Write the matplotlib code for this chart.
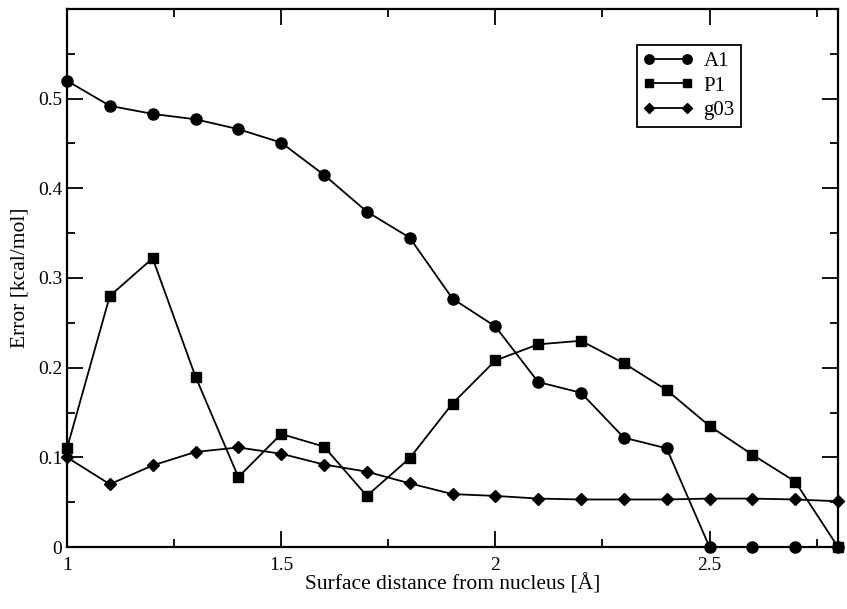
import matplotlib
matplotlib.use("Agg")
import matplotlib.pyplot as plt
from matplotlib.ticker import MultipleLocator

plt.rcParams['font.family'] = ['Liberation Serif', 'DejaVu Serif']
plt.rcParams['font.size'] = 14

# distance grid [Å]
x = [1.0, 1.1, 1.2, 1.3, 1.4, 1.5, 1.6, 1.7, 1.8, 1.9,
     2.0, 2.1, 2.2, 2.3, 2.4, 2.5, 2.6, 2.7, 2.8]

a1 = [0.520, 0.492, 0.483, 0.477, 0.466, 0.451, 0.415, 0.374, 0.345, 0.277,
      0.246, 0.184, 0.172, 0.122, 0.110, 0.0, 0.0, 0.0, 0.0]
p1 = [0.110, 0.280, 0.322, 0.190, 0.078, 0.126, 0.112, 0.057, 0.099, 0.160,
      0.208, 0.226, 0.230, 0.205, 0.175, 0.135, 0.103, 0.073, 0.0]
g03 = [0.100, 0.070, 0.091, 0.106, 0.111, 0.104, 0.092, 0.084, 0.071, 0.059,
       0.057, 0.054, 0.053, 0.053, 0.053, 0.054, 0.054, 0.053, 0.051]

fig = plt.figure(figsize=(8.47, 6.09), dpi=100)
# axes box: x 67..838 px, y 9..547 px
ax = fig.add_axes([67/847, 62/609, 771/847, 538/609])

style = dict(color="black", lw=1.3, clip_on=False, zorder=3)
ax.plot(x, a1, marker="o", ms=8, label="A1", **style)
ax.plot(x, p1, marker="s", ms=7, label="P1", **style)
ax.plot(x, g03, marker="D", ms=5.8, label="g03", **style)

ax.set_xlim(1, 2.8)
ax.set_ylim(0, 0.6)
ax.xaxis.set_minor_locator(MultipleLocator(0.25))
ax.yaxis.set_minor_locator(MultipleLocator(0.05))
ax.set_yticks([0, 0.1, 0.2, 0.3, 0.4, 0.5])
ax.set_yticklabels(["0", "0.1", "0.2", "0.3", "0.4", "0.5"])
ax.set_xticks([1, 1.5, 2, 2.5])
ax.set_xticklabels(["1", "1.5", "2", "2.5"])
ax.tick_params(which="both", direction="in", top=True, right=True, width=1.3)
ax.tick_params(which="major", length=11.5, labelsize=14)
ax.tick_params(axis="x", which="major", pad=7)
ax.tick_params(which="minor", length=5.8)
for s in ax.spines.values():
    s.set_linewidth(1.6)

ax.set_xlabel("Surface distance from nucleus [Å]", fontsize=15.5, labelpad=0)
ax.set_ylabel("Error [kcal/mol]", fontsize=15.5, labelpad=6)

leg = ax.legend(loc="upper right", bbox_to_anchor=(0.874, 0.933), borderaxespad=0,
                numpoints=2, fancybox=False, edgecolor="black", framealpha=1,
                handlelength=2.4, fontsize=15, borderpad=0.3,
                labelspacing=0.25, handletextpad=0.5, markerscale=0.85)
leg.get_frame().set_linewidth(1.3)

fig.savefig("out.png", dpi=100)
